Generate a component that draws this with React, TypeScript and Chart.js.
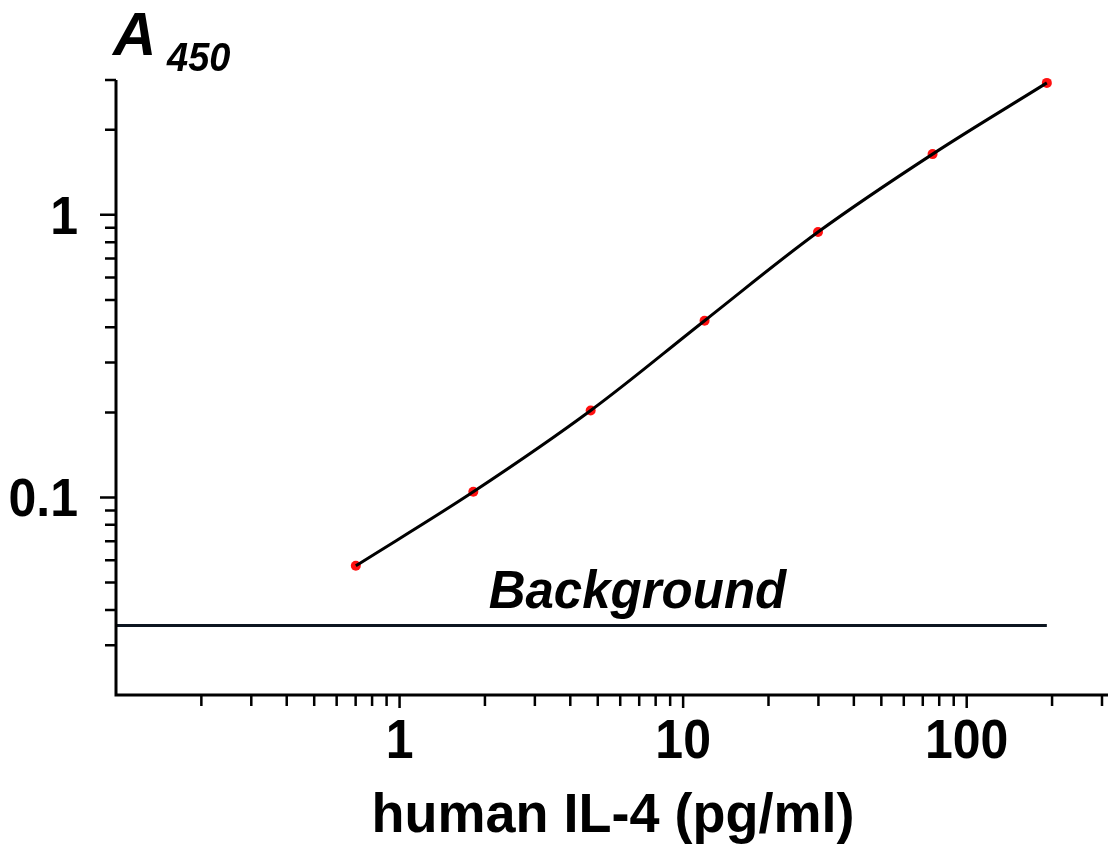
import React, { useEffect, useRef } from "react";
import { Chart, registerables } from "chart.js";

Chart.register(...registerables);

// ---- Data ----
const concentrations = [0.701, 1.82, 4.72, 11.9, 29.9, 75.8, 191.7]; // pg/ml
const absorbances = [0.0573, 0.1047, 0.203, 0.422, 0.869, 1.64, 2.93]; // A450
const backgroundA450 = 0.0352;
const backgroundLabelAt = 6.9; // x value where "Background" text is centred

const xRange = [0.1, 300];
const yRange = [0.02, 3];
const xMajorTicks = [1, 10, 100];
const xMinorTicks = [
  0.2, 0.3, 0.4, 0.5, 0.6, 0.7, 0.8, 0.9,
  2, 3, 4, 5, 6, 7, 8, 9,
  20, 30, 40, 50, 60, 70, 80, 90,
  200, 300,
];
const yMajorTicks = [0.1, 1];
const yMinorTicks = [
  0.03, 0.04, 0.05, 0.06, 0.07, 0.08, 0.09,
  0.2, 0.3, 0.4, 0.5, 0.6, 0.7, 0.8, 0.9,
  2, 3,
];
const xTickLabels = ["1", "10", "100"];
const yTickLabels = ["0.1", "1"];
const xTitle = "human IL-4 (pg/ml)";
const yTitleMain = "A";
const yTitleSub = "450";
const backgroundText = "Background";

const FONT = '"Liberation Sans", Arial, Helvetica, sans-serif';

function stretchedText(ctx: any, text: string, x: number, y: number, sy: number) {
  ctx.save();
  ctx.translate(x, y);
  ctx.scale(1, sy);
  ctx.fillText(text, 0, 0);
  ctx.restore();
}

const axesPlugin = {
  id: "customAxes",
  afterDraw(chart: any) {
    const { ctx, chartArea, scales } = chart;
    const xs = scales.x;
    const ys = scales.y;
    const L = chartArea.left;
    const B = chartArea.bottom;
    const T = chartArea.top;
    ctx.save();
    ctx.strokeStyle = "#000";
    ctx.fillStyle = "#000";
    ctx.lineWidth = 3;
    ctx.lineCap = "butt";

    // axis lines
    ctx.beginPath();
    ctx.moveTo(L, T);
    ctx.lineTo(L, B + 1.5);
    ctx.moveTo(L - 1.5, B);
    ctx.lineTo(1108, B);
    ctx.stroke();

    ctx.lineWidth = 2.5;
    // x ticks
    ctx.beginPath();
    xMinorTicks.forEach((v) => {
      const px = xs.getPixelForValue(v);
      ctx.moveTo(px, B);
      ctx.lineTo(px, B + 11);
    });
    xMajorTicks.forEach((v) => {
      const px = xs.getPixelForValue(v);
      ctx.moveTo(px, B);
      ctx.lineTo(px, B + 13);
    });
    // y ticks
    yMinorTicks.forEach((v) => {
      const py = ys.getPixelForValue(v);
      ctx.moveTo(L, py);
      ctx.lineTo(L - 11, py);
    });
    yMajorTicks.forEach((v) => {
      const py = ys.getPixelForValue(v);
      ctx.moveTo(L, py);
      ctx.lineTo(L - 16, py);
    });
    ctx.stroke();

    // tick labels
    ctx.font = `bold 50px ${FONT}`;
    ctx.textBaseline = "alphabetic";
    ctx.textAlign = "center";
    xMajorTicks.forEach((v, i) => {
      stretchedText(ctx, xTickLabels[i], xs.getPixelForValue(v), 758, 1.1);
    });
    ctx.textAlign = "right";
    yMajorTicks.forEach((v, i) => {
      stretchedText(ctx, yTickLabels[i], 78, ys.getPixelForValue(v) + 19, 1.08);
    });

    // x title
    ctx.textAlign = "center";
    ctx.font = `bold 54px ${FONT}`;
    stretchedText(ctx, xTitle, 613, 832, 1.04);

    // y title A450
    ctx.textAlign = "left";
    ctx.font = `italic bold 60px ${FONT}`;
    stretchedText(ctx, yTitleMain, 113, 55, 1.02);
    ctx.font = `italic bold 38px ${FONT}`;
    stretchedText(ctx, yTitleSub, 167, 71, 1.05);

    // background label
    ctx.textAlign = "center";
    ctx.font = `italic bold 51px ${FONT}`;
    stretchedText(
      ctx,
      backgroundText,
      xs.getPixelForValue(backgroundLabelAt),
      ys.getPixelForValue(backgroundA450) - 18,
      1.04
    );
    ctx.restore();
  },
};

export default function App() {
  const canvasRef = useRef<HTMLCanvasElement | null>(null);

  useEffect(() => {
    const canvas = canvasRef.current;
    if (!canvas) return;
    const points = concentrations.map((x, i) => ({ x, y: absorbances[i] }));
    const bgLine = [
      { x: xRange[0], y: backgroundA450 },
      { x: concentrations[concentrations.length - 1], y: backgroundA450 },
    ];
    const chart = new Chart(canvas, {
      type: "line",
      data: {
        datasets: [
          {
            label: "standards",
            data: points,
            showLine: false,
            pointRadius: 5,
            pointBackgroundColor: "#ff1010",
            pointBorderWidth: 0,
            pointBorderColor: "#ff1010",
            clip: 10,
            order: 3,
          },
          {
            label: "fit",
            data: points,
            borderColor: "#000",
            borderWidth: 3,
            pointRadius: 0,
            tension: 0.35,
            cubicInterpolationMode: "default",
            fill: false,
            clip: 10,
            order: 1,
          },
          {
            label: "background",
            data: bgLine,
            borderColor: "#0d1620",
            borderWidth: 3,
            pointRadius: 0,
            tension: 0,
            fill: false,
            clip: 10,
            order: 2,
          },
        ],
      },
      options: {
        responsive: false,
        animation: false,
        events: [],
        layout: { padding: { left: 116, top: 80, right: 9, bottom: 151 } },
        plugins: {
          legend: { display: false },
          tooltip: { enabled: false },
        },
        scales: {
          x: { type: "logarithmic", min: xRange[0], max: xRange[1], display: false },
          y: { type: "logarithmic", min: yRange[0], max: yRange[1], display: false },
        },
      },
      plugins: [axesPlugin],
    } as any);
    return () => chart.destroy();
  }, []);

  return (
    <div style={{ position: "fixed", left: 0, top: 0, width: 1111, height: 846, background: "#fff" }}>
      <canvas ref={canvasRef} width={1111} height={846} style={{ width: 1111, height: 846, display: "block" }} />
    </div>
  );
}
